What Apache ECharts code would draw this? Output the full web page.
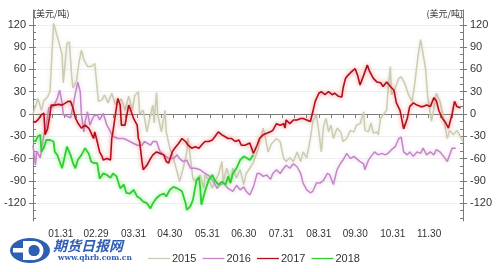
<!DOCTYPE html>
<html>
<head>
<meta charset="utf-8">
<script src="https://cdn.jsdelivr.net/npm/echarts@6/dist/echarts.min.js"></script>
<style>html,body{margin:0;padding:0;background:#fff}#c{width:500px;height:272px}</style>
</head>
<body>
<div id="c"></div>
<script>
// x = day of year (2016 calendar), y = USD/ton
var seriesNames = ['2015', '2016', '2017', '2018'];
var labelDays = [31, 60, 91, 121, 152, 182, 213, 244, 274, 305, 335];
var labelTexts = ['01.31', '02.29', '03.31', '04.30', '05.31', '06.30', '07.31', '08.31', '09.30', '10.31', '11.30'];
var yMajor = [-120, -90, -60, -30, 0, 30, 60, 90, 120];
var unitText = '(美元/吨)';

var s2015 = [[8,0],[10,10],[12,21],[15,5],[17,18],[20,23],[22,30],[25,122],[29,99],[32,80],[33,42],[36,95],[38,97],[40,50],[41,35],[44,45],[46,70],[48,86],[50,73],[53,64],[56,64],[59,68],[62,17],[65,19],[67,26],[70,15],[73,28],[76,13],[78,16],[81,20],[84,5],[87,24],[90,5],[92,25],[95,30],[96,0],[99,5],[102,-24],[105,-1],[107,12],[108,-12],[110,29],[111,-1],[114,-24],[117,5],[118,-24],[121,-46],[124,-60],[127,-78],[129,-91],[132,-73],[135,-51],[136,-32],[138,-60],[140,-87],[143,-91],[146,-82],[149,-100],[150,-82],[153,-88],[156,-100],[158,-91],[161,-82],[164,-64],[165,-91],[168,-73],[171,-91],[173,-73],[176,-86],[179,-75],[182,-95],[184,-80],[187,-73],[190,-65],[194,-46],[198,-19],[200,-33],[202,-51],[205,-40],[209,-33],[212,-37],[215,-60],[217,-64],[220,-59],[223,-64],[226,-51],[229,-64],[231,-51],[234,-59],[237,-33],[239,-10],[242,-1],[244,-24],[246,-51],[248,-15],[250,-6],[252,-24],[254,-15],[256,-33],[259,-19],[262,-24],[264,-37],[267,-33],[270,-22],[273,-24],[275,-15],[278,-13],[281,3],[282,-22],[285,-24],[287,-12],[289,-26],[292,-24],[293,-28],[295,-6],[297,-1],[300,5],[301,30],[303,64],[304,26],[307,35],[310,48],[312,50],[315,41],[318,26],[321,17],[323,39],[326,80],[328,100],[332,62],[334,21],[337,-10],[339,8],[341,28],[344,17],[347,-6],[350,-33],[352,-22],[355,-28],[358,-22],[361,-31],[363,-37]];
var s2016 = [[8,-42],[10,-69],[11,-50],[14,-59],[17,-28],[19,-15],[21,8],[25,10],[28,21],[30,32],[32,15],[33,-1],[36,-3],[39,-5],[41,10],[43,28],[45,43],[47,30],[48,-1],[50,-24],[51,-10],[53,3],[55,-15],[58,-3],[61,-1],[63,-8],[66,1],[69,-15],[72,-24],[74,-30],[78,-33],[83,-33],[88,-37],[94,-42],[98,-42],[100,-37],[105,-42],[107,-37],[110,-37],[113,-51],[116,-55],[120,-60],[124,-60],[127,-55],[129,-60],[132,-64],[135,-62],[138,-73],[142,-73],[146,-75],[150,-80],[154,-84],[157,-91],[160,-100],[162,-96],[165,-93],[169,-100],[173,-104],[176,-96],[179,-102],[182,-98],[184,-104],[187,-109],[190,-98],[193,-80],[195,-80],[198,-84],[201,-82],[204,-88],[206,-80],[209,-75],[212,-80],[215,-73],[217,-69],[220,-73],[223,-67],[226,-71],[229,-80],[231,-93],[234,-102],[237,-106],[239,-104],[242,-93],[245,-93],[248,-89],[251,-80],[253,-82],[256,-95],[259,-75],[262,-66],[264,-62],[267,-53],[270,-60],[273,-57],[275,-60],[278,-64],[281,-67],[282,-75],[285,-62],[288,-55],[290,-51],[293,-55],[296,-53],[299,-55],[301,-53],[304,-48],[307,-44],[310,-33],[312,-31],[314,-51],[317,-55],[319,-51],[322,-57],[325,-51],[328,-53],[330,-46],[333,-55],[336,-51],[339,-55],[341,-48],[344,-51],[347,-57],[350,-64],[352,-55],[354,-46],[357,-46]];
var s2017 = [[8,-10],[10,-11],[12,-8],[15,-1],[17,1],[18,-28],[20,-20],[22,-1],[23,12],[26,12],[29,13],[32,12],[34,14],[37,17],[39,17],[41,8],[43,-5],[45,-12],[48,-19],[51,-15],[54,-19],[55,-22],[58,-33],[59,-24],[61,-37],[63,-51],[65,-57],[66,-62],[69,-60],[72,-62],[73,-33],[74,-24],[76,-1],[78,21],[80,12],[81,-15],[84,-15],[87,12],[88,8],[90,-1],[91,-6],[94,-15],[95,-33],[96,-37],[98,-64],[99,-75],[102,-69],[105,-60],[107,-55],[110,-51],[113,-53],[116,-55],[118,-64],[120,-66],[121,-64],[123,-51],[125,-46],[128,-40],[131,-33],[134,-37],[136,-42],[139,-46],[142,-44],[145,-46],[147,-42],[150,-37],[153,-37],[156,-35],[158,-31],[161,-24],[164,-28],[167,-31],[169,-33],[172,-33],[175,-37],[178,-35],[180,-42],[183,-42],[184,-44],[187,-39],[190,-53],[193,-42],[195,-33],[198,-28],[201,-26],[204,-24],[206,-22],[209,-13],[212,-15],[215,-13],[216,-19],[217,-8],[220,-13],[223,-8],[226,-8],[229,-6],[231,-6],[234,-8],[237,-10],[239,3],[241,17],[244,28],[246,30],[249,26],[252,30],[255,26],[257,28],[260,24],[263,23],[264,35],[266,48],[268,52],[271,57],[274,61],[276,52],[278,39],[281,52],[284,66],[286,57],[289,48],[292,43],[295,42],[297,37],[300,43],[303,37],[306,32],[308,15],[311,5],[314,-20],[317,-6],[319,10],[322,15],[325,12],[328,10],[330,10],[333,12],[336,10],[339,22],[341,18],[343,5],[346,-6],[348,-10],[351,-19],[354,0],[356,17],[358,10],[361,8]];
var s2018 = [[8,-35],[10,-37],[12,-30],[14,-28],[15,-51],[17,-45],[19,-35],[22,-35],[25,-37],[26,-51],[28,-55],[30,-64],[32,-73],[33,-66],[36,-44],[37,-46],[39,-55],[41,-66],[43,-73],[45,-62],[48,-55],[51,-46],[54,-53],[56,-64],[58,-66],[61,-66],[63,-87],[66,-80],[69,-82],[72,-86],[74,-80],[77,-84],[80,-100],[83,-95],[85,-106],[88,-107],[91,-102],[94,-111],[96,-113],[99,-118],[102,-120],[105,-127],[107,-120],[110,-113],[113,-109],[116,-107],[118,-111],[121,-102],[124,-98],[127,-100],[131,-104],[134,-120],[135,-129],[138,-124],[140,-116],[143,-89],[145,-85],[146,-98],[147,-122],[150,-104],[153,-89],[156,-82],[158,-89],[161,-95],[164,-91],[167,-95],[169,-84],[171,-93],[173,-80],[176,-73],[179,-62],[182,-57],[184,-59],[187,-62],[190,-55]];

var xTickDays = [];
for (var d = 14; d <= 363; d += 10) xTickDays.push(d);
var yMinor = [];
for (var v = -140; v <= 140; v += 10) yMinor.push(v);

var chart = echarts.init(document.getElementById('c'), null, {renderer: 'canvas'});
var axisColor = '#7a7a7a';
var fontFam = 'Liberation Sans, Arial, sans-serif';

function yAx(pos, isMinor) {
  return {
    type: 'value', position: pos, min: -144, max: 140,
    axisLine: {show: !isMinor, lineStyle: {color: axisColor, width: 1}},
    axisTick: isMinor ? {show: true, inside: true, length: 3, customValues: yMinor, lineStyle: {color: axisColor}}
                      : {show: true, inside: false, length: 4, customValues: yMajor, lineStyle: {color: axisColor}},
    axisLabel: isMinor ? {show: false} : {show: true, customValues: yMajor, color: '#333', fontSize: 11, fontFamily: fontFam, margin: 7},
    splitLine: {show: (!isMinor && pos === 'left'), lineStyle: {color: '#efefef', width: 1}}
  };
}

function mkSeries(name, data, color, width, glow) {
  return {
    name: name, type: 'line', data: data, symbol: 'none', smooth: false,
    xAxisIndex: 0, yAxisIndex: 0,
    lineStyle: {color: color, width: width, shadowColor: glow, shadowBlur: 4},
    itemStyle: {color: color},
    emphasis: {disabled: true}, animation: false
  };
}

var option = {
  backgroundColor: '#ffffff',
  animation: false,
  grid: {left: 33, right: 37, top: 10, bottom: 51, containLabel: false},
  legend: {
    data: seriesNames, left: 143, top: 248, itemWidth: 22, itemHeight: 8, itemGap: 6,
    textStyle: {color: '#333', fontSize: 11, fontFamily: fontFam, padding: [0, 0, 0, -3]},
    icon: 'path://M0,4 L22,4 L22,5.3 L0,5.3 Z'
  },
  xAxis: [{
    type: 'value', min: 8, max: 363,
    axisLine: {show: true, lineStyle: {color: axisColor}},
    axisTick: {show: true, length: 4, customValues: xTickDays, lineStyle: {color: axisColor}},
    axisLabel: {show: true, customValues: labelDays, color: '#333', fontSize: 10, fontFamily: fontFam, margin: 8,
      formatter: function (val) { var i = labelDays.indexOf(Math.round(val)); return i >= 0 ? labelTexts[i] : ''; }},
    splitLine: {show: false}
  }],
  yAxis: [yAx('left', false), yAx('right', false), yAx('left', true), yAx('right', true)],
  series: [
    mkSeries('2015', s2015, '#cdcbb2', 1.5, 'rgba(210,208,185,0.6)'),
    mkSeries('2016', s2016, '#c386c6', 1.5, 'rgba(215,160,215,0.6)'),
    mkSeries('2017', s2017, '#b0101c', 1.6, 'rgba(240,90,90,0.8)'),
    mkSeries('2018', s2018, '#33cc33', 1.8, 'rgba(110,235,110,0.9)')
  ],
  graphic: [
    {type: 'text', left: 33, top: 9, style: {text: unitText, fill: '#333', fontSize: 9, fontFamily: 'Noto Sans CJK SC, sans-serif'}},
    {type: 'text', right: 37, top: 9, style: {text: unitText, fill: '#333', fontSize: 9, fontFamily: 'Noto Sans CJK SC, sans-serif'}},
    {type: 'group', left: 10, top: 238, children: [
      {type: 'ellipse', shape: {cx: 20, cy: 12.5, rx: 20, ry: 12.5}, style: {fill: '#2f5fb3'}},
      {type: 'rect', shape: {x: 3, y: 10, width: 22, height: 4.5}, style: {fill: '#ffffff'}},
      {type: 'rect', shape: {x: 13, y: 3, width: 5, height: 19}, style: {fill: '#ffffff'}},
      {type: 'ring', shape: {cx: 24, cy: 12.5, r: 9.5, r0: 5.5}, style: {fill: '#ffffff'}},
      {type: 'rect', shape: {x: 13, y: 3, width: 11, height: 4}, style: {fill: '#ffffff'}},
      {type: 'rect', shape: {x: 13, y: 18, width: 11, height: 4}, style: {fill: '#ffffff'}},
      {type: 'ring', shape: {cx: 24, cy: 12.5, r: 5.5, r0: 0}, style: {fill: '#2f5fb3'}}
    ]},
    {type: 'text', left: 53, top: 239, style: {text: '期货日报网', fill: '#2f5fb3', fontSize: 14, fontWeight: 'bold', fontStyle: 'italic', fontFamily: 'Noto Sans CJK SC, sans-serif'}},
    {type: 'text', left: 58, top: 254, style: {text: 'www.qhrb.com.cn', fill: '#2f5fb3', fontSize: 7.5, fontWeight: 'bold', fontFamily: 'DejaVu Serif, serif'}}
  ]
};
chart.setOption(option);
</script>
</body>
</html>
